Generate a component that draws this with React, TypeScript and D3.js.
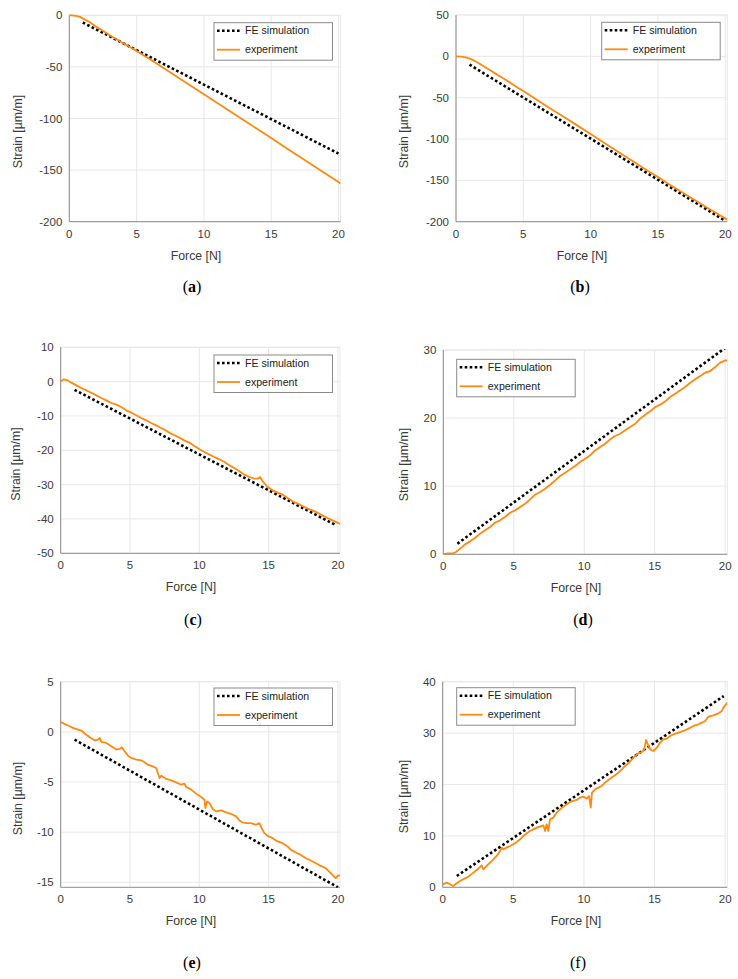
import React from "react";
import * as d3 from "d3";

// ---------- data ----------
const xTicks = [0, 5, 10, 15, 20];
const yTicksA = [-200, -150, -100, -50, 0];
const yTicksB = [-200, -150, -100, -50, 0, 50];
const yTicksC = [-50, -40, -30, -20, -10, 0, 10];
const yTicksD = [0, 10, 20, 30];
const yTicksE = [-15, -10, -5, 0, 5];
const yTicksF = [0, 10, 20, 30, 40];

const feA: [number, number][] = [[1, -7], [20, -134]];
const feB: [number, number][] = [[1, -10], [20, -199]];
const feC: [number, number][] = [[1, -2.4], [19.9, -41.9]];
const feD: [number, number][] = [[1, 1.56], [20, 30.3]];
const feE: [number, number][] = [[1, -0.78], [20, -15.5]];
const feF: [number, number][] = [[1, 2.2], [19.9, 37.2]];

const expA: [number, number][] = [
  [0, 0.3], [0.5, -0.5], [0.8, -1.5], [1.0, -3], [1.5, -6.5], [2, -11], [2.5, -15], [3, -19.3],
  [3.5, -23.2], [4, -27], [4.5, -30.8], [5, -34.5], [6, -42.5], [7, -51], [8, -59.5], [9, -68],
  [10, -76.5], [11, -85], [12, -93.5], [13, -102], [14, -110.5], [15, -119], [16, -127.5],
  [17, -136], [18, -144.5], [19, -153], [20, -161.5], [20.15, -163],
];

const expB: [number, number][] = [
  [0, 0], [0.4, -0.3], [0.8, -1.5], [1.2, -4], [1.6, -7.5], [2, -11.5], [2.5, -16.5], [3, -21.5],
  [3.5, -26.5], [4, -31.5], [4.5, -37], [5, -42], [6, -52.5], [7, -63], [8, -73], [9, -83.5],
  [10, -94], [11, -104.5], [12, -115], [13, -125.5], [14, -136], [15, -146], [16, -156.5],
  [17, -166.5], [18, -176.5], [19, -186.5], [20, -196], [20.15, -197.5],
];

const expC: [number, number][] = [
  [0, 0.09], [0.24, 0.67], [0.48, 0.38], [0.77, -0.3], [1.13, -1.08], [1.49, -1.86], [1.85, -2.53],
  [2.21, -3.22], [2.57, -3.99], [2.93, -4.77], [3.29, -5.45], [3.65, -6.22], [4.01, -6.71],
  [4.37, -7.39], [4.73, -8.36], [5.09, -9.04], [5.45, -9.81], [5.81, -10.59], [6.17, -11.27],
  [6.53, -12.05], [6.89, -12.73], [7.25, -13.5], [7.61, -14.28], [7.97, -15.15], [8.33, -15.83],
  [8.69, -16.61], [9.05, -17.39], [9.29, -17.77], [9.65, -18.74], [10.01, -19.71], [10.37, -20.49],
  [10.73, -21.27], [11.09, -21.95], [11.45, -22.63], [11.81, -23.41], [12.17, -24.38],
  [12.53, -25.16], [12.89, -26.13], [13.25, -27.1], [13.61, -27.78], [13.97, -28.27],
  [14.21, -28.27], [14.38, -27.78], [14.57, -29.04], [14.93, -30.69], [15.29, -31.66],
  [15.65, -32.34], [16.01, -32.92], [16.37, -33.89], [16.73, -34.86], [17.09, -35.54],
  [17.45, -36.22], [17.81, -37.0], [18.17, -37.49], [18.53, -38.17], [18.89, -38.95],
  [19.25, -39.72], [19.61, -40.4], [19.97, -41.08], [20.16, -41.47],
];

const expD: [number, number][] = [
  [0, 0.04], [0.36, 0.14], [0.71, 0.14], [0.9, 0.34], [1.19, 0.83], [1.54, 1.46], [1.9, 1.9],
  [2.25, 2.39], [2.61, 3.03], [2.96, 3.52], [3.32, 4.01], [3.67, 4.64], [4.03, 4.99], [4.38, 5.48],
  [4.74, 6.11], [5.09, 6.45], [5.45, 6.94], [5.8, 7.43], [6.16, 8.07], [6.51, 8.75], [6.87, 9.14],
  [7.22, 9.63], [7.58, 10.22], [7.94, 10.86], [8.29, 11.49], [8.65, 11.98], [9.0, 12.47],
  [9.35, 12.96], [9.71, 13.55], [10.06, 14.04], [10.42, 14.53], [10.77, 15.26], [11.13, 15.75],
  [11.48, 16.24], [11.84, 16.88], [12.19, 17.37], [12.55, 17.71], [12.9, 18.2], [13.26, 18.69],
  [13.62, 19.18], [13.97, 19.92], [14.33, 20.5], [14.68, 20.99], [15.04, 21.63], [15.39, 21.97],
  [15.75, 22.46], [16.1, 23.1], [16.45, 23.59], [16.81, 24.08], [17.16, 24.57], [17.52, 25.2],
  [17.87, 25.69], [18.23, 26.18], [18.58, 26.67], [18.94, 26.91], [19.3, 27.5], [19.65, 28.14],
  [20.01, 28.48], [20.17, 28.48],
];

const expE: [number, number][] = [
  [0, 0.97], [0.53, 0.63], [0.89, 0.4], [1.25, 0.23], [1.49, 0.13], [1.73, -0.16], [2.09, -0.53],
  [2.45, -0.84], [2.69, -0.77], [2.81, -0.6], [2.93, -1.0], [3.29, -1.1], [3.65, -1.43],
  [4.01, -1.76], [4.25, -1.7], [4.42, -1.53], [4.61, -1.93], [4.85, -2.37], [5.09, -2.6],
  [5.45, -2.77], [5.81, -2.84], [6.05, -3.04], [6.29, -3.27], [6.65, -3.44], [6.89, -3.6],
  [7.01, -4.1], [7.13, -4.6], [7.25, -4.37], [7.61, -4.7], [7.97, -4.84], [8.33, -5.04],
  [8.69, -5.27], [8.93, -5.17], [9.05, -5.5], [9.41, -5.76], [9.77, -6.16], [10.13, -6.5],
  [10.37, -6.77], [10.44, -7.6], [10.56, -6.94], [10.73, -7.1], [10.97, -7.7], [11.21, -7.93],
  [11.57, -7.83], [11.93, -8.03], [12.29, -8.17], [12.65, -8.43], [12.89, -8.83], [13.13, -9.03],
  [13.37, -9.1], [13.73, -9.1], [14.09, -9.27], [14.33, -9.1], [14.5, -9.6], [14.69, -10.1],
  [14.93, -10.37], [15.29, -10.6], [15.65, -10.93], [16.01, -11.1], [16.37, -11.43],
  [16.61, -11.77], [16.97, -12.03], [17.33, -12.27], [17.69, -12.6], [18.05, -12.83],
  [18.41, -13.1], [18.77, -13.37], [19.13, -13.6], [19.37, -13.93], [19.61, -14.27],
  [19.85, -14.6], [19.97, -14.37], [20.16, -14.3],
];

const expF: [number, number][] = [
  [0, 0.58], [0.28, 0.91], [0.52, 0.58], [0.75, 0.26], [0.99, 0.78], [1.23, 1.23], [1.46, 1.56],
  [1.7, 1.88], [1.94, 2.33], [2.17, 2.85], [2.41, 3.37], [2.6, 3.83], [2.76, 4.28], [2.88, 3.5],
  [3.11, 4.15], [3.35, 4.8], [3.59, 5.45], [3.82, 6.1], [4.06, 7.07], [4.18, 7.72], [4.3, 7.39],
  [4.53, 7.72], [4.77, 8.04], [5.0, 8.37], [5.24, 8.82], [5.48, 9.34], [5.71, 9.99], [5.95, 10.51],
  [6.18, 10.96], [6.42, 11.28], [6.66, 11.61], [6.89, 11.8], [7.13, 12.06], [7.25, 10.96],
  [7.36, 12.26], [7.48, 10.96], [7.6, 13.23], [7.83, 13.55], [8.07, 14.53], [8.31, 15.18],
  [8.54, 15.69], [8.78, 16.15], [9.02, 16.6], [9.25, 16.8], [9.49, 16.99], [9.72, 17.45],
  [9.96, 17.64], [10.2, 17.25], [10.36, 17.77], [10.48, 15.5], [10.57, 18.42], [10.79, 19.07],
  [11.02, 19.39], [11.26, 19.71], [11.49, 20.36], [11.73, 20.88], [11.97, 21.34], [12.2, 21.79],
  [12.44, 22.31], [12.68, 22.96], [12.91, 23.61], [13.15, 24.12], [13.39, 24.9], [13.62, 25.55],
  [13.86, 26.07], [14.09, 26.33], [14.26, 26.72], [14.4, 28.66], [14.57, 27.5], [14.73, 26.72],
  [14.92, 26.52], [15.16, 27.17], [15.39, 28.15], [15.63, 28.79], [15.87, 28.92], [16.1, 29.44],
  [16.34, 29.77], [16.69, 30.09], [17.05, 30.42], [17.4, 30.87], [17.76, 31.39], [18.11, 31.71],
  [18.35, 32.04], [18.58, 32.36], [18.82, 33.2], [19.17, 33.46], [19.53, 33.85], [19.76, 34.31],
  [19.88, 34.96], [20.06, 35.6], [20.16, 35.93],
];

const seriesNames = ["FE simulation", "experiment"];
const panelLetters = ["a", "b", "c", "d", "e", "f"];

// ---------- layout ----------
type Panel = {
  letter: string;
  x0: number; x1: number; yTop: number; yBot: number;
  yDomain: [number, number];
  yTicks: number[];
  exp: [number, number][];
  fe: [number, number][];
  legend: [number, number];
  xlabX: number;
  ylab: [number, number];
  captionX: number;
  captionY: number;
  bold: boolean;
};

const X_MAX = 20.15;
const panels: Panel[] = [
  { letter: panelLetters[0], x0: 69.3, x1: 340.5, yTop: 15.3, yBot: 221.7, yDomain: [-200, 0], yTicks: yTicksA, exp: expA, fe: feA, legend: [214, 22.7], xlabX: 196, ylab: [17, 131.5], captionX: 192, captionY: 292, bold: true },
  { letter: panelLetters[1], x0: 456, x1: 727.3, yTop: 15, yBot: 221.7, yDomain: [-200, 50], yTicks: yTicksB, exp: expB, fe: feB, legend: [601.7, 22.3], xlabX: 582, ylab: [403, 131.5], captionX: 580, captionY: 292, bold: true },
  { letter: panelLetters[2], x0: 60.7, x1: 340, yTop: 347.3, yBot: 553.3, yDomain: [-50, 10], yTicks: yTicksC, exp: expC, fe: feC, legend: [214, 355], xlabX: 191, ylab: [15.5, 464], captionX: 193, captionY: 625, bold: true },
  { letter: panelLetters[3], x0: 443.3, x1: 727.3, yTop: 350, yBot: 554.3, yDomain: [0, 30], yTicks: yTicksD, exp: expD, fe: feD, legend: [456.7, 359.3], xlabX: 576, ylab: [403, 464.5], captionX: 583, captionY: 625, bold: true },
  { letter: panelLetters[4], x0: 60.7, x1: 340, yTop: 681.7, yBot: 887.3, yDomain: [-15.5, 5], yTicks: yTicksE, exp: expE, fe: feE, legend: [214, 688], xlabX: 191, ylab: [17, 798.5], captionX: 192, captionY: 968, bold: true },
  { letter: panelLetters[5], x0: 442.7, x1: 727.3, yTop: 681.7, yBot: 887.3, yDomain: [0, 40], yTicks: yTicksF, exp: expF, fe: feF, legend: [456.7, 687.7], xlabX: 576, ylab: [403, 796.5], captionX: 578, captionY: 968, bold: false },
];

const ORANGE = "#ff8a12";
const GRID = "#e8e8e8";
const AXIS = "#8c8c8c";
const TEXT = "#3a3a3a";
const SANS = "'Liberation Sans', Arial, sans-serif";
const SERIF = "'Liberation Serif', 'Times New Roman', serif";

function PanelView({ p, idx }: { p: Panel; idx: number }) {
  const x = d3.scaleLinear().domain([0, X_MAX]).range([p.x0, p.x1]);
  const y = d3.scaleLinear().domain(p.yDomain).range([p.yBot, p.yTop]);
  const line = d3.line<[number, number]>().x((d) => x(d[0])).y((d) => y(d[1]));
  const clipId = `clip-${idx}`;
  const [lx, ly] = p.legend;
  const lw = 118.5, lh = 37.5;
  return (
    <g>
      <defs>
        <clipPath id={clipId}>
          <rect x={p.x0} y={p.yTop - 1} width={p.x1 - p.x0} height={p.yBot - p.yTop + 1.5} />
        </clipPath>
      </defs>
      <rect x={p.x0} y={p.yTop} width={p.x1 - p.x0} height={p.yBot - p.yTop} fill="#fff" />
      {xTicks.map((t) => (
        <line key={"gx" + t} x1={x(t)} x2={x(t)} y1={p.yTop} y2={p.yBot} stroke={GRID} strokeWidth={1} />
      ))}
      {p.yTicks.map((t) => (
        <line key={"gy" + t} x1={p.x0} x2={p.x1} y1={y(t)} y2={y(t)} stroke={GRID} strokeWidth={1} />
      ))}
      <line x1={p.x0} x2={p.x1} y1={p.yTop} y2={p.yTop} stroke={GRID} strokeWidth={1} />
      <line x1={p.x1} x2={p.x1} y1={p.yTop} y2={p.yBot} stroke={GRID} strokeWidth={1} />
      <line x1={p.x0} x2={p.x0} y1={p.yTop} y2={p.yBot} stroke={AXIS} strokeWidth={1} />
      <line x1={p.x0} x2={p.x1} y1={p.yBot} y2={p.yBot} stroke={AXIS} strokeWidth={1} />
      <g clipPath={`url(#${clipId})`}>
        <path d={line(p.fe) || ""} fill="none" stroke="#000" strokeWidth={2.6} strokeDasharray="2.6,2.4" />
        <path d={line(p.exp) || ""} fill="none" stroke={ORANGE} strokeWidth={1.8} strokeLinejoin="round" />
      </g>
      {xTicks.map((t) => (
        <text key={"tx" + t} x={x(t)} y={p.yBot + 16} textAnchor="middle" fontFamily={SANS} fontSize={11.5} fill={TEXT}>
          {String(t)}
        </text>
      ))}
      {p.yTicks.map((t) => (
        <text key={"ty" + t} x={p.x0 - 7} y={y(t) + 4} textAnchor="end" fontFamily={SANS} fontSize={11.5} fill={TEXT}>
          {String(t)}
        </text>
      ))}
      <text x={p.xlabX} y={p.yBot + 38} textAnchor="middle" fontFamily={SANS} fontSize={12.3} fill={TEXT}>
        Force [N]
      </text>
      <text
        x={0}
        y={0}
        transform={`translate(${p.ylab[0] + 4.5},${p.ylab[1]}) rotate(-90)`}
        textAnchor="middle"
        fontFamily={SANS}
        fontSize={12.3}
        fill={TEXT}
      >
        Strain [µm/m]
      </text>
      <rect x={lx} y={ly} width={lw} height={lh} fill="#fff" stroke="#8a8a8a" strokeWidth={1} />
      <line x1={lx + 3} x2={lx + 26} y1={ly + 8} y2={ly + 8} stroke="#000" strokeWidth={2.6} strokeDasharray="2.6,2.4" />
      <text x={lx + 31} y={ly + 11.5} fontFamily={SANS} fontSize={10.6} fill="#222">
        {seriesNames[0]}
      </text>
      <line x1={lx + 3} x2={lx + 26} y1={ly + 27} y2={ly + 27} stroke={ORANGE} strokeWidth={1.8} />
      <text x={lx + 31} y={ly + 30.5} fontFamily={SANS} fontSize={10.6} fill="#222">
        {seriesNames[1]}
      </text>
      <text x={p.captionX} y={p.captionY} textAnchor="middle" fontFamily={SERIF} fontSize={16} fill="#000">
        (<tspan fontWeight={p.bold ? "bold" : "normal"}>{p.letter}</tspan>)
      </text>
    </g>
  );
}

export default function App() {
  return (
    <svg
      width={738}
      height={979}
      viewBox="0 0 738 979"
      style={{ position: "absolute", left: 0, top: 0, background: "#fff" }}
    >
      <rect x={0} y={0} width={738} height={979} fill="#fff" />
      {panels.map((p, i) => (
        <PanelView key={p.letter} p={p} idx={i} />
      ))}
    </svg>
  );
}
